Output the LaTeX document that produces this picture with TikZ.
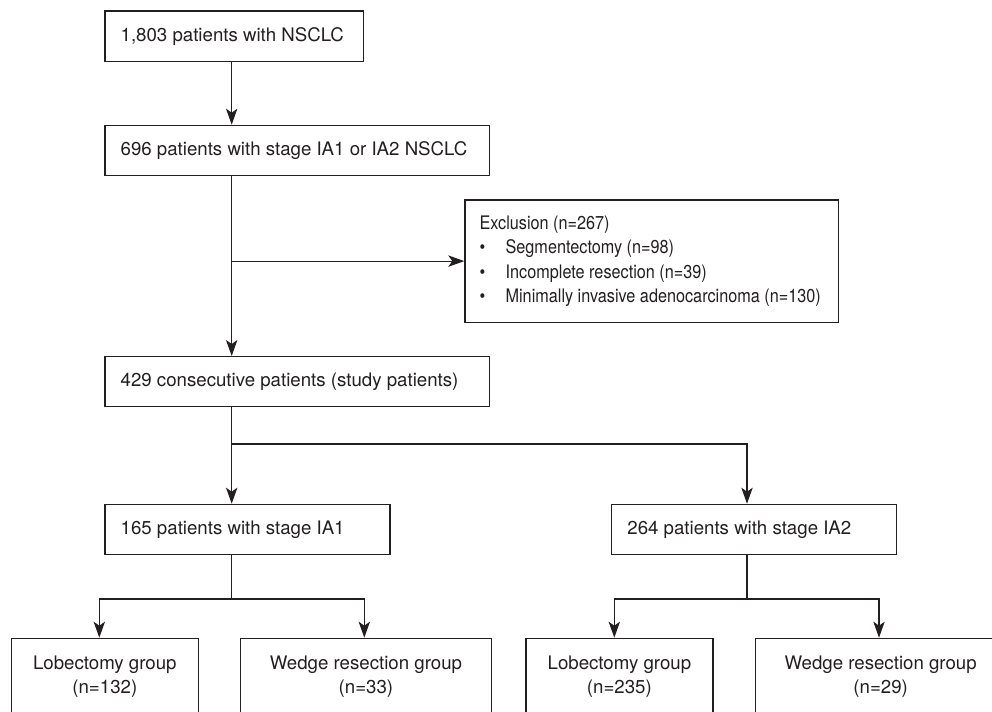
\documentclass[tikz,border=0pt]{standalone}
\usepackage{fontspec}
\setmainfont{TeX Gyre Heros}
\newfontfamily\condfont[FakeStretch=0.87]{TeX Gyre Heros}
\usetikzlibrary{arrows.meta}
\definecolor{ink}{RGB}{35,31,32}
\newcommand\lftln[2]{\makebox[#1][l]{#2}}
\newcommand\bul{\makebox[19.5pt][l]{\textbullet}}
\begin{document}
\begin{tikzpicture}[x=0.75pt,y=-0.75pt,
  every node/.style={font=\fontsize{14}{18}\selectfont, text=ink},
  lbox/.style={draw=ink, line width=0.9pt, anchor=north west, inner xsep=11.8pt, inner ysep=0pt},
  cbox/.style={draw=ink, line width=0.9pt, anchor=north west, inner sep=0pt, align=center},
  conn/.style={draw=ink, line width=0.9pt},
  arr/.style={conn, -{Stealth[length=12pt,width=8.5pt,inset=3pt]}}]
\useasboundingbox (0,0) rectangle (992,711);
\clip (0,0) rectangle (992,711);
% boxes
\node[lbox, minimum width=258.7*0.75pt, minimum height=50.4*0.75pt] (n1) at (104.3,10.3) {\lftln{170.4pt}{1,803 patients with NSCLC}};
\node[lbox, minimum width=384.4*0.75pt, minimum height=50.3*0.75pt] (n2) at (104.3,124.7) {\lftln{264.7pt}{696 patients with stage IA1 or IA2 NSCLC}};
\node[lbox, inner xsep=11pt, minimum width=373.4*0.75pt, minimum height=122.4*0.75pt, font=\condfont\fontsize{14}{18.2}\selectfont] (excl) at (464.3,199.3) {\lftln{258pt}{\begin{tabular}{@{}l@{}}Exclusion (n=267)\\
\bul Segmentectomy (n=98)\\
\bul Incomplete resection (n=39)\\
\bul Minimally invasive adenocarcinoma (n=130)\end{tabular}}};
\node[lbox, minimum width=384.4*0.75pt, minimum height=50*0.75pt] (n3) at (104.3,356) {\lftln{264.7pt}{429 consecutive patients (study patients)}};
\node[lbox, minimum width=285*0.75pt, minimum height=50.3*0.75pt] (ia1) at (104.3,503.7) {\lftln{190.1pt}{165 patients with stage IA1}};
\node[lbox, minimum width=285*0.75pt, minimum height=50.3*0.75pt] (ia2) at (611,503.7) {\lftln{190.1pt}{264 patients with stage IA2}};
\node[cbox, minimum width=187*0.75pt, minimum height=77*0.75pt] (lob1) at (10.7,637.7) {Lobectomy group\\(n=132)};
\node[cbox, minimum width=250.7*0.75pt, minimum height=77*0.75pt] (wed1) at (240,637.7) {Wedge resection group\\(n=33)};
\node[cbox, minimum width=187*0.75pt, minimum height=77*0.75pt] (lob2) at (525.3,637.7) {Lobectomy group\\(n=235)};
\node[cbox, minimum width=250.7*0.75pt, minimum height=77*0.75pt] (wed2) at (754.7,637.7) {Wedge resection group\\(n=29)};
% reference columns and rows
\coordinate (cx) at (231.7,0);
\coordinate (c2) at (747,0);
\coordinate (split) at (0,444);
\coordinate (s1) at (0,599);
\coordinate (l1x) at (99.3,0);
\coordinate (w1x) at (364.3,0);
\coordinate (l2x) at (614.3,0);
\coordinate (w2x) at (879,0);
% connectors
\draw[arr] (n1.south -| cx) -- (n2.north -| cx);
\draw[arr] (n2.south -| cx) -- (n3.north -| cx);
\draw[arr] (excl.west -| cx) -- (excl.west);
\draw[arr] (n3.south -| cx) -- (ia1.north -| cx);
\draw[arr] (split -| cx) -- (split -| c2) -- (ia2.north -| c2);
\draw[conn] (ia1.south -| cx) -- (s1 -| cx);
\draw[arr] (s1 -| cx) -- (s1 -| l1x) -- (lob1.north -| l1x);
\draw[arr] (s1 -| cx) -- (s1 -| w1x) -- (wed1.north -| w1x);
\draw[conn] (ia2.south -| c2) -- (s1 -| c2);
\draw[arr] (s1 -| c2) -- (s1 -| l2x) -- (lob2.north -| l2x);
\draw[arr] (s1 -| c2) -- (s1 -| w2x) -- (wed2.north -| w2x);
\end{tikzpicture}
\end{document}
